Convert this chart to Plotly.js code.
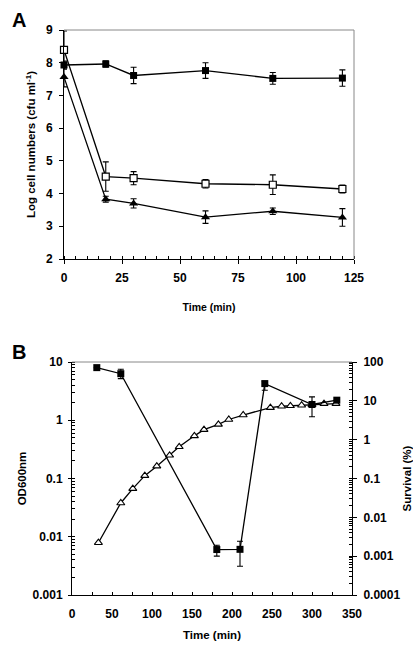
<!DOCTYPE html>
<html>
<head>
<meta charset="utf-8">
<script src="https://cdn.plot.ly/plotly-3.0.1.min.js"></script>
<style>html,body{margin:0;padding:0;background:#fff;}#chart{width:413px;height:650px;}</style>
</head>
<body>
<div id="chart"></div>
<script>
// ---------- Panel A data ----------
const timeA = [0, 18, 30, 61, 90, 120];
const filledSqA = [7.93, 7.96, 7.61, 7.76, 7.52, 7.53];
const filledSqAErr = [0.12, 0.10, 0.25, 0.24, 0.18, 0.25];
const openSqA = [8.39, 4.52, 4.47, 4.30, 4.27, 4.14];
const openSqAErr = [0.58, 0.45, 0.20, 0.13, 0.30, 0.12];
const triA = [7.56, 3.83, 3.70, 3.28, 3.46, 3.27];
const triAErr = [0.30, 0.09, 0.14, 0.19, 0.10, 0.27];

// ---------- Panel B data ----------
const timeOD = [33, 61, 76, 91, 106, 122, 134, 153, 165, 183, 196, 214, 248, 262, 273, 287, 300, 315, 330];
const od600 = [0.0079, 0.038, 0.067, 0.112, 0.163, 0.25, 0.35, 0.54, 0.69, 0.85, 1.03, 1.23, 1.65, 1.74, 1.77, 1.81, 1.85, 1.93, 1.93];
const timeSurv = [31, 61, 181, 210, 241, 300, 331];
const survival = [71.6, 50, 0.00148, 0.0015, 27.8, 8.05, 10.4];
const survErrPlus = [0, 15, 0.00043, 0.00093, 4.1, 4.6, 0];
const survErrMinus = [0, 12.6, 0.00048, 0.00095, 9, 4.15, 0];

const odTickVals = [0.001, 0.01, 0.1, 1, 10];
const odTickText = ['0.001', '0.01', '0.1', '1', '10'];
const survTickVals = [0.0001, 0.001, 0.01, 0.1, 1, 10, 100];
const survTickText = ['0.0001', '0.001', '0.01', '0.1', '1', '10', '100'];

const FONT = 'Liberation Sans, Arial, sans-serif';
const lineStyle = {color: '#000', width: 1.3};
function err(arr, minus) {
  const e = {type: 'data', array: arr, visible: true, color: '#000', thickness: 1.1, width: 3};
  if (minus) { e.symmetric = false; e.arrayminus = minus; } else { e.symmetric = true; }
  return e;
}

const traces = [
  {x: timeA, y: filledSqA, mode: 'lines+markers', xaxis: 'x', yaxis: 'y', cliponaxis: false,
   line: lineStyle, marker: {symbol: 'square', size: 7, color: '#000'},
   error_y: err(filledSqAErr)},
  {x: timeA, y: openSqA, mode: 'lines+markers', xaxis: 'x', yaxis: 'y', cliponaxis: false,
   line: lineStyle, marker: {symbol: 'square', size: 7, color: '#fff', line: {color: '#000', width: 1.2}},
   error_y: err(openSqAErr)},
  {x: timeA, y: triA, mode: 'lines+markers', xaxis: 'x', yaxis: 'y', cliponaxis: false,
   line: lineStyle, marker: {symbol: 'triangle-up', size: 8, color: '#000'},
   error_y: err(triAErr)},
  {x: timeOD, y: od600, mode: 'lines+markers', xaxis: 'x2', yaxis: 'y2', cliponaxis: false,
   line: lineStyle, marker: {symbol: 'triangle-up', size: 7, color: '#fff', line: {color: '#000', width: 1.1}}},
  {x: timeSurv, y: survival, mode: 'lines+markers', xaxis: 'x2', yaxis: 'y3', cliponaxis: false,
   line: lineStyle, marker: {symbol: 'square', size: 7, color: '#000'},
   error_y: err(survErrPlus, survErrMinus)}
];

const tickFont = {family: FONT, size: 12, color: '#000', weight: 700};
const titleFontA = {family: FONT, size: 10.5, color: '#000', weight: 700};
const titleFontB = {family: FONT, size: 11.5, color: '#000', weight: 700};

const layout = {
  width: 413, height: 650,
  margin: {l: 0, r: 0, t: 0, b: 0},
  paper_bgcolor: '#fff', plot_bgcolor: '#fff',
  showlegend: false,
  font: {family: FONT, color: '#000'},
  xaxis: {
    domain: [64/413, 354/413], anchor: 'y', range: [0, 125], dtick: 25, tick0: 0,
    showgrid: false, zeroline: false, showline: true, linecolor: '#000', linewidth: 1,
    ticks: 'outside', ticklen: 4, tickcolor: '#000', ticklabelstandoff: 4,
    minor: {ticks: 'inside', ticklen: 3, dtick: 5, tickcolor: '#000', showgrid: false},
    tickfont: tickFont,
    title: {text: 'Time (min)', font: titleFontA, standoff: 19}
  },
  yaxis: {
    domain: [1 - 259/650, 1 - 30/650], anchor: 'x', range: [2, 9], dtick: 1,
    showgrid: false, zeroline: false, showline: true, linecolor: '#000', linewidth: 1,
    ticks: 'outside', ticklen: 4, tickcolor: '#000', tickfont: tickFont, ticklabelstandoff: 4,
    title: {text: 'Log cell numbers (cfu ml<sup>-1</sup>)', font: {family: FONT, size: 11.5, color: '#000', weight: 700}, standoff: 7}
  },
  xaxis2: {
    domain: [72/413, 352/413], anchor: 'y2', range: [0, 350], dtick: 50, tick0: 0,
    showgrid: false, zeroline: false, showline: true, linecolor: '#000', linewidth: 1,
    ticks: 'inside', ticklen: 3, tickcolor: '#000', ticklabelstandoff: 8,
    minor: {ticks: 'inside', ticklen: 3, dtick: 25, tickcolor: '#000', showgrid: false},
    tickfont: tickFont,
    title: {text: 'Time (min)', font: titleFontB, standoff: 10}
  },
  yaxis2: {
    domain: [1 - 595/650, 1 - 362/650], anchor: 'x2', type: 'log', range: [-3, 1],
    tickmode: 'array', tickvals: odTickVals, ticktext: odTickText,
    showgrid: false, zeroline: false, showline: true, linecolor: '#000', linewidth: 1,
    ticks: 'outside', ticklen: 3, tickcolor: '#000', tickfont: tickFont, ticklabelstandoff: 3,
    minor: {ticks: 'inside', ticklen: 3, dtick: 'D1', tickcolor: '#000', showgrid: false},
    title: {text: 'OD600nm', font: titleFontB, standoff: 3}
  },
  yaxis3: {
    domain: [1 - 595/650, 1 - 362/650], anchor: 'x2', overlaying: 'y2', side: 'right',
    type: 'log', range: [-4, 2],
    tickmode: 'array', tickvals: survTickVals, ticktext: survTickText,
    showgrid: false, zeroline: false, showline: true, linecolor: '#000', linewidth: 1,
    ticks: 'outside', ticklen: 4, tickcolor: '#000', tickfont: tickFont, ticklabelstandoff: 4,
    minor: {ticks: 'inside', ticklen: 3, dtick: 'D1', tickcolor: '#000', showgrid: false},
    title: {text: 'Survival (%)', font: titleFontB, standoff: 3}
  },
  shapes: [
    {type: 'line', xref: 'x domain', yref: 'y domain', x0: 0, x1: 1, y0: 1, y1: 1, line: {color: '#888', width: 1}},
    {type: 'line', xref: 'x domain', yref: 'y domain', x0: 1, x1: 1, y0: 0, y1: 1, line: {color: '#888', width: 1}},
    {type: 'line', xref: 'x2 domain', yref: 'y2 domain', x0: 0, x1: 1, y0: 1, y1: 1, line: {color: '#888', width: 1}}
  ],
  annotations: [
    {text: 'A', xref: 'paper', yref: 'paper', x: 10/413, y: 1 - 20/650, xanchor: 'left', yanchor: 'middle',
     showarrow: false, font: {family: FONT, size: 20, color: '#000', weight: 700}},
    {text: 'B', xref: 'paper', yref: 'paper', x: 10/413, y: 1 - 352/650, xanchor: 'left', yanchor: 'middle',
     showarrow: false, font: {family: FONT, size: 20, color: '#000', weight: 700}}
  ]
};

Plotly.newPlot('chart', traces, layout, {displayModeBar: false, staticPlot: true});
</script>
</body>
</html>
